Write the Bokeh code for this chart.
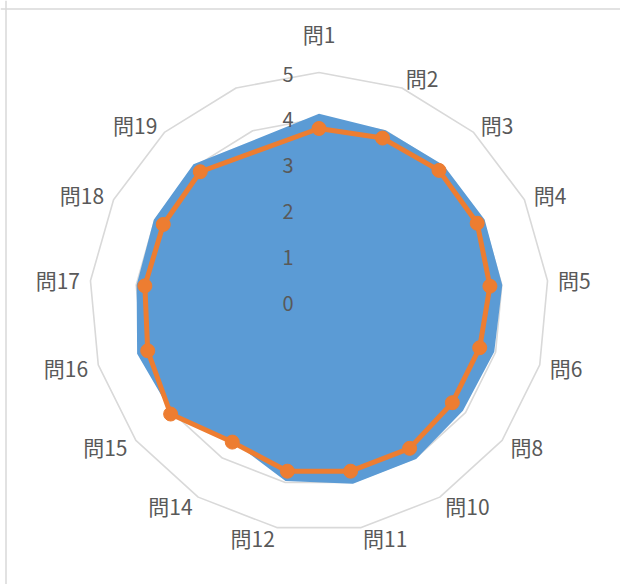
import math
from bokeh.plotting import figure
from bokeh.models import Range1d, Span
from bokeh.core.properties import value
from bokeh.embed import file_html
from bokeh.resources import INLINE

# ---- data ----
categories = ["問1", "問2", "問3", "問4", "問5", "問6", "問8", "問10", "問11",
              "問12", "問14", "問15", "問16", "問17", "問18", "問19", ""]
series_a = [4.10, 4.01, 4.03, 4.03, 4.01, 3.97, 3.93, 4.02, 4.03,
            3.97, 3.57, 4.02, 4.12, 3.99, 4.02, 4.06, None]
series_b = [3.78, 3.83, 3.88, 3.85, 3.74, 3.64, 3.64, 3.75, 3.75,
            3.75, 3.59, 4.05, 3.88, 3.81, 3.79, 3.84, None]
radial_ticks = [0, 1, 2, 3, 4, 5]

# ---- geometry helpers ----
N = len(categories)
R_MAX = 5
PX = 45.9              # pixels per value unit
W, H = 620, 584
CX, CY = 318.5, 301.5  # centre in canvas pixels

angles = [2 * math.pi * i / N for i in range(N)]

def pt(v, a):
    return v * math.sin(a), v * math.cos(a)

p = figure(width=W, height=H, output_backend="svg", toolbar_location=None,
           x_range=Range1d(-CX / PX, (W - CX) / PX),
           y_range=Range1d(-(H - CY) / PX, CY / PX),
           min_border=0, outline_line_color=None)
p.axis.visible = False
p.grid.visible = False
p.background_fill_color = "white"
p.border_fill_color = "white"

# chart border (left and top edges visible in the reference)
p.add_layout(Span(location=(5.5 - CX) / PX, dimension="height",
                  line_color="#D9D9D9", line_width=1.5))
p.add_layout(Span(location=(CY - 8.5) / PX, dimension="width",
                  line_color="#D9D9D9", line_width=1.5))

# grid polygons
gx, gy = [], []
for lvl in radial_ticks[1:]:
    xs = [pt(lvl, a)[0] for a in angles] + [pt(lvl, angles[0])[0]]
    ys = [pt(lvl, a)[1] for a in angles] + [pt(lvl, angles[0])[1]]
    gx.append(xs)
    gy.append(ys)
p.multi_line(gx, gy, line_color="#D9D9D9", line_width=1.6)

# series A (filled area) - blanks are skipped
ax_, ay_ = [], []
for v, a in zip(series_a, angles):
    if v is None:
        continue
    x, y = pt(v, a)
    ax_.append(x)
    ay_.append(y)
p.patch(ax_, ay_, fill_color="#5B9BD5", line_color=None)

# series B (line with markers)
bx, by = [], []
for v, a in zip(series_b, angles):
    if v is None:
        continue
    x, y = pt(v, a)
    bx.append(x)
    by.append(y)
p.line(bx + [bx[0]], by + [by[0]], line_color="#ED7D31", line_width=5,
       line_join="round")
p.scatter(bx, by, size=14, marker="circle", fill_color="#ED7D31",
          line_color="#ED7D31")

# radial axis labels
p.text(x=[-25.5 / PX] * len(radial_ticks),
       y=[t - 1.5 / PX for t in radial_ticks],
       text=[str(t) for t in radial_ticks],
       text_align="right", text_baseline="middle",
       text_font=value("Noto Sans CJK JP"), text_font_size="20px",
       text_color="#595959")

# category labels
lx, ly, lt, la, lb = [], [], [], [], []
for c, a in zip(categories, angles):
    s, co = math.sin(a), math.cos(a)
    if abs(s) < 0.02:
        r = R_MAX + 23.5 / PX
        align = "center"
        base = "bottom" if co > 0 else "top"
    else:
        r = R_MAX + 10.5 / PX
        align = "left" if s > 0 else "right"
        base = "middle"
    x, y = pt(r, a)
    lx.append(x)
    ly.append(y)
    lt.append(c)
    la.append(align)
    lb.append(base)

for al in ("left", "right", "center"):
    for bl in ("middle", "bottom", "top"):
        idx = [i for i in range(N) if la[i] == al and lb[i] == bl]
        if not idx:
            continue
        p.text(x=[lx[i] for i in idx], y=[ly[i] for i in idx],
               text=[lt[i] for i in idx], text_align=al, text_baseline=bl,
               text_font=value("Noto Sans CJK JP"), text_font_size="21px",
               text_color="#595959")

open("out.html", "w").write(file_html(p, INLINE))
